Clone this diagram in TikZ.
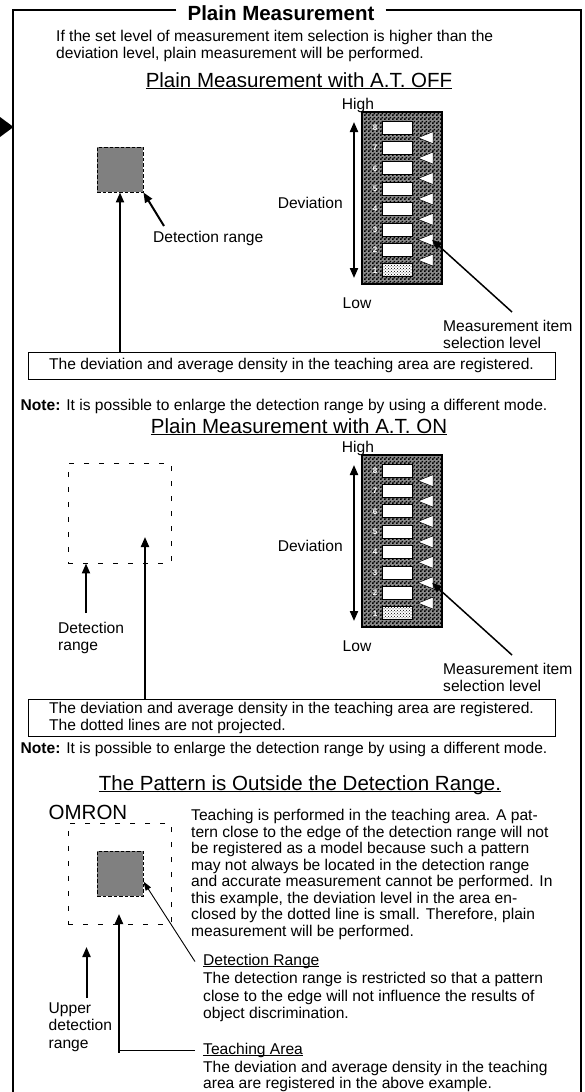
\documentclass[tikz,border=0pt]{standalone}
\usepackage{fontspec}
\setmainfont{Liberation Sans}
\usepackage{tikz}
\usetikzlibrary{arrows.meta,patterns,positioning}
\definecolor{ink}{RGB}{0,0,0}
\definecolor{patch}{RGB}{128,128,128}
\newcommand\bodysize{\fontsize{15.6}{17}\selectfont}
\newcommand\headsize{\fontsize{20.5}{24}\selectfont}
\newcommand\undl[1]{\setbox0\hbox{#1}\rlap{\rule[-1.8pt]{\wd0}{1pt}}\box0}
\pgfdeclarepatternformonly{checker}{\pgfpointorigin}{\pgfpoint{4pt}{4pt}}{\pgfpoint{4pt}{4pt}}{%
  \pgfpathrectangle{\pgfpointorigin}{\pgfpoint{2pt}{2pt}}%
  \pgfpathrectangle{\pgfpoint{2pt}{2pt}}{\pgfpoint{2pt}{2pt}}%
  \pgfusepath{fill}}
\tikzset{
  >={Triangle[length=10pt,width=8pt]},
  frameline/.style={draw=ink,line width=1.3pt},
  headline/.style={font=\headsize\bfseries,inner xsep=11pt,inner ysep=0pt},
  subhead/.style={font=\headsize,inner sep=0pt},
  txt/.style={font=\bodysize,inner sep=0pt,align=left},
  notebox/.style={draw=ink,line width=1pt,font=\bodysize,minimum width=527pt,
    minimum height=27pt,inner sep=0pt,align=center},
  patchsq/.style={draw=ink,fill=patch,dash pattern=on 3.5pt off 2pt,line width=0.9pt,
    minimum width=46pt,minimum height=45pt,inner sep=0pt},
  rangebox/.style={draw=ink,dash pattern=on 5pt off 10pt,line width=0.9pt,
    minimum width=103pt,minimum height=100pt,inner sep=0pt},
  arrow/.style={->,line width=2pt,draw=ink},
  pointer/.style={->,line width=1.5pt,draw=ink},
  thinpointer/.style={-{Triangle[length=9pt,width=6pt]},line width=0.9pt,draw=ink},
  scalebox/.style={draw=ink,line width=2pt,preaction={fill=black!45},pattern=checker,
    pattern color=ink,minimum width=80pt,minimum height=172pt,inner sep=0pt},
  slot/.style={draw=ink,line width=1pt,fill=white,minimum width=30pt,minimum height=13pt,inner sep=0pt},
  levelnum/.style={text=white,font=\fontsize{8}{8}\selectfont\bfseries,inner sep=0pt},
  notch/.style={fill=white,draw=ink,line width=0.5pt},
  % level scale with its labels
  pics/levelscale/.style={code={
    \node[scalebox] (-box) at (40,86) {};
    \foreach \k in {2,...,8}
      \node[slot] (-s\k) at (35,{15.5+(8-\k)*20.4}) {};
    \node[slot,pattern=crosshatch dots,pattern color=ink,preaction={fill=white}] (-s1) at (35,158.3) {};
    \foreach \k in {1,...,8}
      \node[levelnum] (-n\k) at (13,{15.5+(8-\k)*20.4}) {\k};
    \foreach \k in {2,...,8}
      \filldraw[notch] (56,{25.7+(8-\k)*20.4}) -- (71,{19.7+(8-\k)*20.4}) -- (71,{31.7+(8-\k)*20.4}) -- cycle;
    \node[txt,anchor=base] (-high) at (-4,-2.4) {High};
    \node[txt,anchor=base east] (-dev) at (-19,96.6) {Deviation};
    \node[txt,anchor=base] (-low) at (-5,196.6) {Low};
    \coordinate (-top) at (-8,10);
    \coordinate (-bot) at (-8,166);
    \draw[arrow,<->] (-top) -- (-bot);
    \node[txt,anchor=north west,font=\fontsize{15.6}{16.5}\selectfont] (-lbl) at (81,208.2) {Measurement item\\selection level};
    \coordinate (-lvl) at (70,127.7);
    \coordinate (-tail) at (150,200);
    \draw[pointer] (-tail) -- (-lvl);
  }},
}

\begin{document}
\begin{tikzpicture}[x=1pt,y=-1pt]
  \useasboundingbox (0,0) rectangle (585,1092);
  \node[headline] (title) at (281,13) {Plain Measurement};
  \draw[frameline] (title.west |- 0,10) -- (13,10) -- (13,1092);
  \draw[frameline] (title.east |- 0,10) -- (581,10) -- (581,1092);
  \fill[ink] (0,117) -- (13.5,127) -- (0,137) -- cycle;
  \node[txt,anchor=north west] (intro) at (56,30.2) {If the set level of measurement item selection is higher than the\\deviation level, plain measurement will be performed.};

  \node[subhead,anchor=base] (offhead) at (299,87.4) {\undl{Plain Measurement with A.T. OFF}};
  \node[patchsq] (sq1) at (120,169.5) {};
  \node[txt,anchor=base west] (det1) at (153,242.6) {Detection range};
  \coordinate (det1tail) at (164,226);
  \draw[arrow] (det1tail) -- (sq1.south east);
  \pic (sa) at (362,112) {levelscale};
  \node[notebox] (box1) at (291.5,365.5) {The deviation and average density in the teaching area are registered.};
  \draw[arrow] (box1.north -| sq1.south) -- (sq1.south);
  \node[txt,anchor=base west] (note1) at (20.5,410.6) {\textbf{Note:} It is possible to enlarge the detection range by using a different mode.};

  \node[subhead,anchor=base] (onhead) at (299,433.4) {\undl{Plain Measurement with A.T. ON}};
  \node[rangebox] (dr2) at (119.5,513) {};
  \pic (sb) at (362,455) {levelscale};
  \node[txt,anchor=north west] (det2) at (58,622.2) {Detection\\range};
  \coordinate (det2tail) at (86,613);
  \draw[arrow] (det2tail) -- (det2tail |- dr2.south);
  \node[notebox,minimum height=37pt,align=left] (box2) at (291.5,717.5) {The deviation and average density in the teaching area are registered.\\The dotted lines are not projected.};
  \coordinate (tch2) at (145,537);
  \draw[arrow] (box2.north -| tch2) -- (tch2);
  \node[txt,anchor=base west] (note2) at (20.5,753.6) {\textbf{Note:} It is possible to enlarge the detection range by using a different mode.};

  \node[subhead,anchor=base] (outhead) at (300,790.4) {\undl{The Pattern is Outside the Detection Range.}};
  \node[subhead,anchor=base] (omron) at (88,819.4) {OMRON};
  \node[rangebox,minimum height=101pt] (dr3) at (119.5,873.5) {};
  \node[patchsq] (sq3) at (120,873.5) {};
  \node[txt,anchor=north west,font=\fontsize{15.6}{16.5}\selectfont] (para) at (191,809.2) {Teaching is performed in the teaching area. A pat-\\tern close to the edge of the detection range will not\\be registered as a model because such a pattern\\may not always be located in the detection range\\and accurate measurement cannot be performed. In\\this example, the deviation level in the area en-\\closed by the dotted line is small. Therefore, plain\\measurement will be performed.};
  \node[txt,anchor=base west,inner xsep=8pt] (rnghead) at (195,965.6) {\undl{Detection Range}};
  \node[txt,anchor=north west,font=\fontsize{15.6}{17.5}\selectfont] (rngtxt) at (203,972.2) {The detection range is restricted so that a pattern\\close to the edge will not influence the results of\\object discrimination.};
  \draw[thinpointer] (rnghead.west) -- ([yshift=-8pt]sq3.east);
  \node[txt,anchor=base west,inner xsep=8pt] (tchhead) at (195,1054.6) {\undl{Teaching Area}};
  \node[txt,anchor=north west,font=\fontsize{15.6}{16}\selectfont] (tchtxt) at (203,1061) {The deviation and average density in the teaching\\area are registered in the above example.};
  \coordinate (tch3) at (119,914);
  \draw[arrow] ([yshift=-2pt]tchhead.west -| tch3) -- (tch3);
  \draw[ink,line width=1pt] (tchhead.west) -- (tchhead.west -| tch3);
  \node[txt,anchor=north west,font=\fontsize{15.6}{17.5}\selectfont] (upr3) at (48.5,1002.2) {Upper\\detection\\range};
  \coordinate (upr3tail) at (86.5,998);
  \coordinate (upr3tip) at (86.5,947);
  \draw[arrow] (upr3tail) -- (upr3tip);
\end{tikzpicture}
\end{document}
